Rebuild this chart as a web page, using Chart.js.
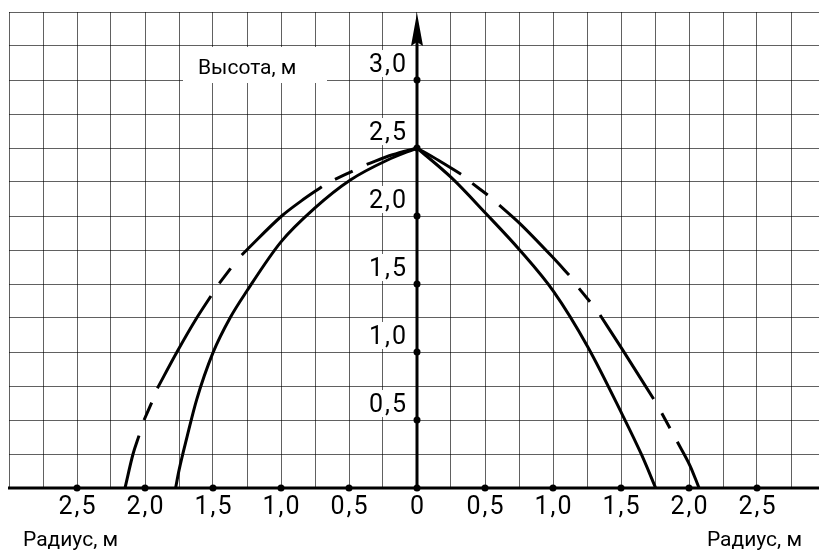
<!DOCTYPE html>
<html><head><meta charset="utf-8">
<script src="https://cdn.jsdelivr.net/npm/chart.js@4"></script>
<style>html,body{margin:0;padding:0;background:#fff;} #wrap{width:819px;height:551px;}</style>
</head><body><div id="wrap"><canvas id="c" width="819" height="551"></canvas></div>
<script>
// Tick values (radius shown as absolute value on both sides)
const xTickValues = [-2.5, -2, -1.5, -1, -0.5, 0, 0.5, 1, 1.5, 2, 2.5];
const yTickValues = [0.5, 1, 1.5, 2, 2.5, 3];
const yAxisTitle = 'Высота, м';
const xAxisTitle = 'Радиус, м';

// Curves: [radius, height]; null height = gap in the dashed line
const leftSolid = [[-1.775,0],[-1.75,0.13],[-1.69,0.38],[-1.62,0.65],[-1.5,0.995],[-1.375,1.25],[-1.25,1.45],[-1.0,1.81],[-0.75,2.06],[-0.49,2.265],[-0.22,2.41],[0,2.5]];
const leftDashed = [[-2.147,0],[-2.088,0.25],[-2.044,0.385],[-2.03,null],[-2.007,0.5],[-1.951,0.627],[-1.93,null],[-1.909,0.733],[-1.765,1.0],[-1.62,1.25],[-1.515,1.412],[-1.49,null],[-1.454,1.505],[-1.37,1.615],[-1.33,null],[-1.289,1.713],[-1.245,1.757],[-0.995,2.0],[-0.848,2.113],[-0.70,2.215],[-0.65,null],[-0.603,2.27],[-0.473,2.33],[-0.42,null],[-0.37,2.38],[-0.18,2.45],[0,2.5]];
const rightSolid = [[0,2.5],[0.255,2.28],[0.505,2.02],[0.755,1.75],[1.005,1.444],[1.255,1.039],[1.505,0.549],[1.652,0.243],[1.755,0]];
const rightDashed = [[0,2.5],[0.157,2.41],[0.324,2.307],[0.36,null],[0.407,2.24],[0.52,2.154],[0.56,null],[0.605,2.08],[0.755,1.946],[1.005,1.689],[1.118,1.566],[1.15,null],[1.191,1.468],[1.272,1.37],[1.31,null],[1.346,1.272],[1.505,1.027],[1.74,0.654],[1.77,null],[1.80,0.549],[1.86,0.439],[1.89,null],[1.914,0.34],[2.007,0.165],[2.074,0]];

const toPts = arr => arr.map(p => ({x: p[0], y: p[1]}));
const fmt = v => Math.abs(v).toFixed(Math.abs(v) === 0 ? 0 : 1).replace('.', ',');

const lineDs = (data) => ({
  data: toPts(data), showLine: true, borderColor: '#000', borderWidth: 3,
  pointRadius: 0, cubicInterpolationMode: 'monotone', spanGaps: false, fill: false,
  borderCapStyle: 'butt', borderJoinStyle: 'round'
});

const overlay = {
  id: 'overlay',
  beforeDatasetsDraw(chart) {
    const ctx = chart.ctx, xs = chart.scales.x, ys = chart.scales.y, ca = chart.chartArea;
    ctx.save();
    // white boxes behind y labels
    ctx.fillStyle = '#fff';
    yTickValues.forEach(v => {
      const py = ys.getPixelForValue(v);
      ctx.fillRect(365, py - 30, 45, 27);
    });
    // title box
    ctx.fillRect(183, 47, 144, 36);
    // x-axis
    const x0 = xs.getPixelForValue(0), y0 = ys.getPixelForValue(0);
    ctx.strokeStyle = '#000';
    ctx.lineWidth = 3;
    ctx.beginPath(); ctx.moveTo(ca.left - 1, y0); ctx.lineTo(ca.right + 2, y0); ctx.stroke();
    // y-axis
    ctx.beginPath(); ctx.moveTo(x0, y0); ctx.lineTo(x0, ca.top + 12); ctx.stroke();
    // arrow head
    ctx.fillStyle = '#000';
    ctx.beginPath();
    ctx.moveTo(x0, ca.top + 1);
    ctx.lineTo(x0 + 6, ca.top + 34);
    ctx.lineTo(x0, ca.top + 30);
    ctx.lineTo(x0 - 6, ca.top + 34);
    ctx.closePath(); ctx.fill();
    // dots
    xTickValues.forEach(v => { ctx.beginPath(); ctx.arc(xs.getPixelForValue(v), y0, 3.5, 0, Math.PI*2); ctx.fill(); });
    yTickValues.forEach(v => { ctx.beginPath(); ctx.arc(x0, ys.getPixelForValue(v), 3.5, 0, Math.PI*2); ctx.fill(); });
    // tick labels
    ctx.fillStyle = '#000';
    ctx.font = '25px Roboto';
    ctx.letterSpacing = '2px';
    ctx.textBaseline = 'alphabetic';
    ctx.textAlign = 'center';
    xTickValues.forEach(v => ctx.fillText(fmt(v), xs.getPixelForValue(v) + 1, y0 + 26));
    ctx.textAlign = 'right';
    yTickValues.forEach(v => ctx.fillText(fmt(v), 408, ys.getPixelForValue(v) - 8));
    // axis titles
    ctx.letterSpacing = '0px';
    ctx.font = '21px Roboto';
    ctx.textAlign = 'left';
    ctx.fillText(yAxisTitle, 198, 74);
    ctx.fillText(xAxisTitle, 23, 546);
    ctx.textAlign = 'right';
    ctx.fillText(xAxisTitle, 802, 546);
    ctx.restore();
  }
};

new Chart(document.getElementById('c'), {
  type: 'scatter',
  data: { datasets: [lineDs(leftSolid), lineDs(rightSolid), lineDs(leftDashed), lineDs(rightDashed)] },
  options: {
    responsive: false, animation: false, events: [],
    layout: { padding: { left: 9, top: 12, right: 0, bottom: 63 } },
    plugins: { legend: { display: false }, tooltip: { enabled: false } },
    scales: {
      x: { type: 'linear', min: -3, max: -3 + 810/136,
           ticks: { display: false, stepSize: 0.25, includeBounds: false },
           grid: { color: 'rgba(0,0,0,0.62)', lineWidth: 1, drawTicks: false },
           border: { display: false } },
      y: { type: 'linear', min: 0, max: 3.5,
           ticks: { display: false, stepSize: 0.25 },
           grid: { color: 'rgba(0,0,0,0.62)', lineWidth: 1, drawTicks: false },
           border: { display: false } }
    }
  },
  plugins: [overlay]
});
</script></body></html>
